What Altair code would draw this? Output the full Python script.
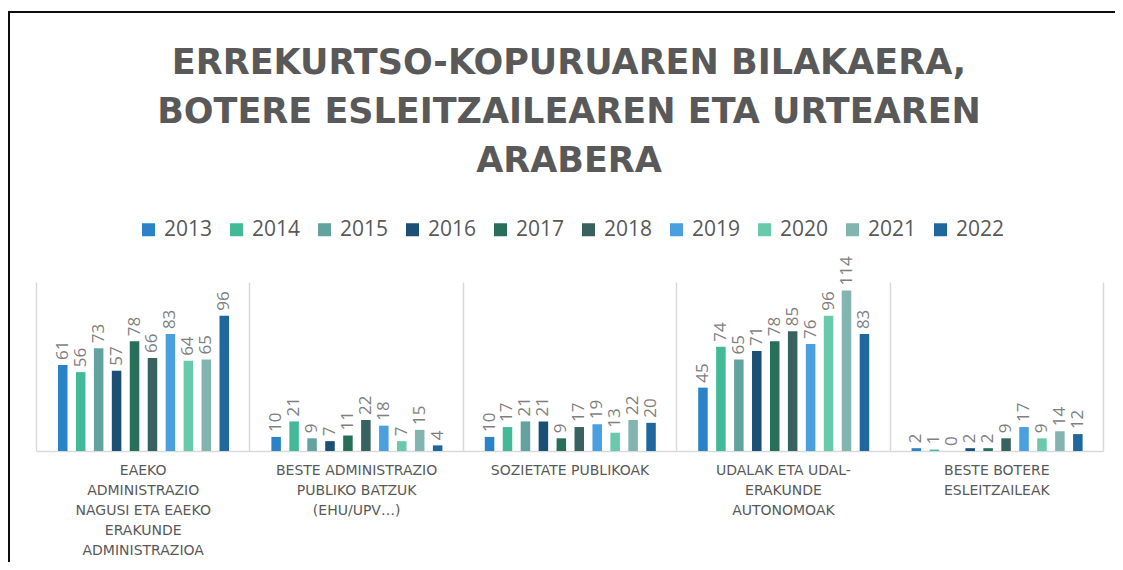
import altair as alt
import pandas as pd

years = ["2013", "2014", "2015", "2016", "2017", "2018", "2019", "2020", "2021", "2022"]

categories = [
    "EAEKO ADMINISTRAZIO NAGUSI ETA EAEKO ERAKUNDE ADMINISTRAZIOA",
    "BESTE ADMINISTRAZIO PUBLIKO BATZUK (EHU/UPV…)",
    "SOZIETATE PUBLIKOAK",
    "UDALAK ETA UDAL-ERAKUNDE AUTONOMOAK",
    "BESTE BOTERE ESLEITZAILEAK",
]
category_lines = [
    ["EAEKO", "ADMINISTRAZIO", "NAGUSI ETA EAEKO", "ERAKUNDE", "ADMINISTRAZIOA"],
    ["BESTE ADMINISTRAZIO", "PUBLIKO BATZUK", "(EHU/UPV…)"],
    ["SOZIETATE PUBLIKOAK"],
    ["UDALAK ETA UDAL-", "ERAKUNDE", "AUTONOMOAK"],
    ["BESTE BOTERE", "ESLEITZAILEAK"],
]

values_eaeko = [61, 56, 73, 57, 78, 66, 83, 64, 65, 96]
values_beste_admin = [10, 21, 9, 7, 11, 22, 18, 7, 15, 4]
values_sozietate = [10, 17, 21, 21, 9, 17, 19, 13, 22, 20]
values_udalak = [45, 74, 65, 71, 78, 85, 76, 96, 114, 83]
values_beste_botere = [2, 1, 0, 2, 2, 9, 17, 9, 14, 12]

colors = ["#2A83C6", "#42BA97", "#62A39F", "#1B4F75", "#276F58",
          "#38625F", "#4A9FDE", "#68CAAB", "#82B4B0", "#1F689D"]

title_lines = [
    "ERREKURTSO-KOPURUAREN BILAKAERA,",
    "BOTERE ESLEITZAILEAREN ETA URTEAREN",
    "ARABERA",
]

series = [values_eaeko, values_beste_admin, values_sozietate, values_udalak, values_beste_botere]
rows = []
for cat, vals in zip(categories, series):
    for yr, v in zip(years, vals):
        rows.append({"category": cat, "year": yr, "value": v})
df = pd.DataFrame(rows)

# multi-line axis labels
expr = "''"
for cat, lines in reversed(list(zip(categories, category_lines))):
    arr = "[" + ",".join("'" + l + "'" for l in lines) + "]"
    expr = f"datum.value === '{cat}' ? {arr} : ({expr})"

x_enc = alt.X(
    "category:N", sort=categories,
    scale=alt.Scale(paddingInner=0, paddingOuter=0),
    axis=alt.Axis(
        title=None, tickBand="extent", grid=True, gridColor="#D9D9D9", gridWidth=1.5,
        ticks=False, domainColor="#D9D9D9", domainWidth=1.5, labelAngle=0,
        labelExpr=expr, labelFont="DejaVu Sans", labelFontSize=14, labelColor="#595959",
        labelLineHeight=20, labelPadding=12, labelLimit=400, labelOverlap=False,
        labelBound=False,
    ),
)
xoff_enc = alt.XOffset("year:N", sort=years,
                       scale=alt.Scale(range=[22, 193], paddingInner=0.47, paddingOuter=0))
y_enc = alt.Y("value:Q", scale=alt.Scale(domain=[0, 120]), axis=None)

base = alt.Chart(df)

bars = base.mark_bar().encode(
    x=x_enc, xOffset=xoff_enc, y=y_enc,
    color=alt.Color(
        "year:N", sort=years, scale=alt.Scale(domain=years, range=colors),
        legend=alt.Legend(
            title=None, orient="none", direction="horizontal", columns=10,
            legendX=102, legendY=-63, padding=0,
            symbolType="square", symbolSize=169, symbolStrokeWidth=0,
            labelFont="Open Sans", labelFontSize=21, labelColor="#595959",
            labelOffset=5, columnPadding=13,
        ),
    ),
)

labels = base.mark_text(
    angle=270, align="left", baseline="middle", dx=5,
    font="Open Sans", fontSize=17, color="#7F7F7F",
).encode(x=x_enc, xOffset=xoff_enc, y=y_enc, text=alt.Text("value:Q"))

single = alt.Data(values=[{"k": 1}])
title_mark = alt.Chart(single).mark_text(
    text=title_lines, font="DejaVu Sans", fontSize=35, fontWeight="bold",
    color="#595959", lineHeight=49, align="center", baseline="middle",
).encode(x=alt.value(533), y=alt.value(-219))

frame_top = alt.Chart(single).mark_rule(color="#0D0D0D", strokeWidth=2).encode(
    x=alt.value(-27), x2=alt.value(1090), y=alt.value(-270), y2=alt.value(-270)
)
frame_left = alt.Chart(single).mark_rule(color="#0D0D0D", strokeWidth=2).encode(
    x=alt.value(-27), x2=alt.value(-27), y=alt.value(-271), y2=alt.value(300)
)

chart = alt.layer(bars, labels, title_mark, frame_top, frame_left).properties(
    width=1067, height=169,
    autosize=alt.AutoSizeParams(type="none"),
    padding={"left": 28, "top": 274, "right": 12, "bottom": 111},
).configure_view(stroke=None)

chart.save("out.html", embed_options={"renderer": "svg", "actions": False})
